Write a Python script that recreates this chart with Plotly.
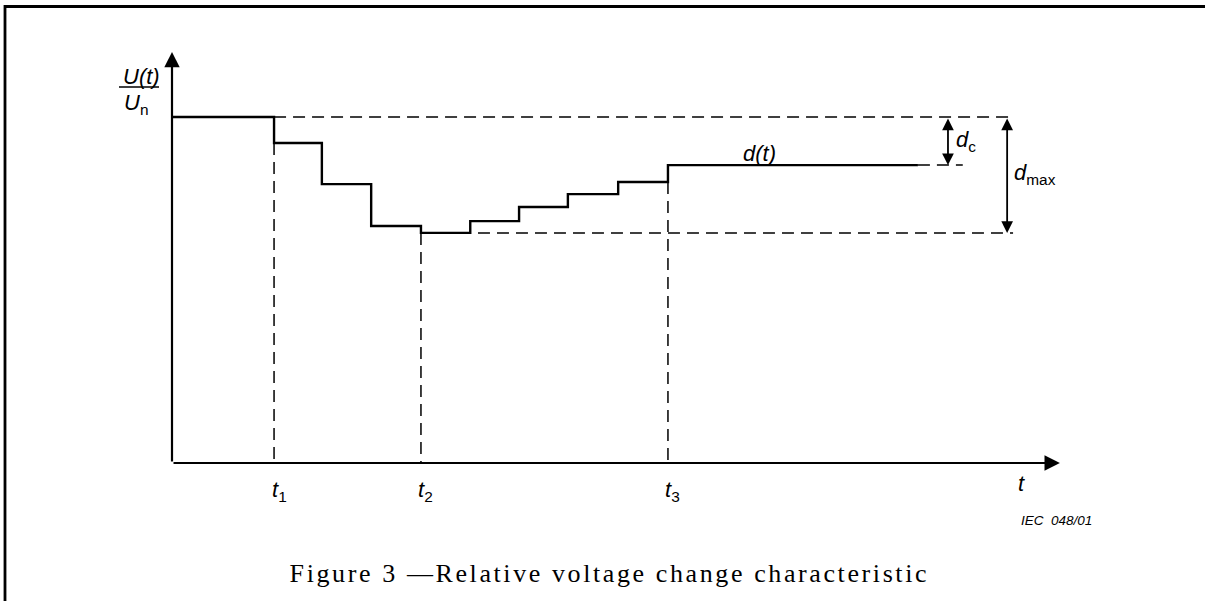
import plotly.graph_objects as go

# ---- data (diagram units: t in arbitrary time units, U/Un relative voltage) ----
step_times = [0, 2.07, 3.04, 4.04, 5.05, 6.05, 7.04, 8.03, 9.05, 10.06]
step_levels = [1.0, 0.925, 0.806, 0.685, 0.665, 0.699, 0.740, 0.777, 0.812, 0.861]
t_end = 15.13
marker_times = [2.07, 5.05, 10.06]          # t1, t2, t3
marker_subs = ["1", "2", "3"]
u_initial = 1.0
u_min = 0.665
u_final = 0.861
t_axis_end = 18.01
u_axis_end = 1.188
dash_right = 17.06
dc_dash_right = 16.04
dc_arrow_t = 15.74
dmax_arrow_t = 16.94

W, H = 1205, 601
X0_PX, Y0_PX = 172, 463      # origin position
KX, KY = 49.3, 346.0          # px per unit

def px(x):
    return x / W

def py(y):
    return 1 - y / H

fig = go.Figure()

BLACK = "#000000"
SANS = "Liberation Sans, Arial, sans-serif"

# staircase d(t)
fig.add_trace(go.Scatter(
    x=step_times + [t_end], y=step_levels + [u_final],
    mode="lines", line=dict(color=BLACK, width=2.4, shape="hv"),
    hoverinfo="skip", showlegend=False))

DASH = "12px,7px"
def dashed(x, y):
    fig.add_trace(go.Scatter(x=x, y=y, mode="lines",
                             line=dict(color=BLACK, width=1.5, dash=DASH),
                             hoverinfo="skip", showlegend=False))

# horizontal dashed references
dashed([marker_times[0], dash_right], [u_initial, u_initial])
dashed([marker_times[1], dash_right], [u_min, u_min])
dashed([t_end, dc_dash_right], [u_final, u_final])
# vertical dashed markers
dashed([marker_times[0], marker_times[0]], [step_levels[1], 0])
dashed([marker_times[1], marker_times[1]], [u_min, 0])
dashed([marker_times[2], marker_times[2]], [step_levels[8], 0])

anns = []
# axes with arrows
anns.append(dict(x=t_axis_end, y=0, ax=0, ay=0, xref="x", yref="y", axref="x", ayref="y",
                 text="", showarrow=True, arrowhead=2, arrowsize=1.4, arrowwidth=2.2,
                 arrowcolor=BLACK, standoff=0, startstandoff=0))
anns.append(dict(x=0, y=u_axis_end, ax=0, ay=0, xref="x", yref="y", axref="x", ayref="y",
                 text="", showarrow=True, arrowhead=2, arrowsize=1.4, arrowwidth=2.2,
                 arrowcolor=BLACK, standoff=0, startstandoff=0))
# double arrows d_c and d_max
for tt, lo in [(dc_arrow_t, u_final), (dmax_arrow_t, u_min)]:
    anns.append(dict(x=tt, y=lo, ax=tt, ay=u_initial, xref="x", yref="y", axref="x", ayref="y",
                     text="", showarrow=True, arrowhead=2, arrowsize=1.3, arrowwidth=1.8,
                     arrowside="end+start", arrowcolor=BLACK, standoff=0, startstandoff=0))

lab_font = dict(family=SANS, size=22, color=BLACK)
# tick labels t1,t2,t3
for tt, sub in zip(marker_times, marker_subs):
    anns.append(dict(x=tt, y=0, xref="x", yref="y", text="<i>t</i><sub>" + sub + "</sub>",
                     showarrow=False, font=lab_font, xanchor="center", yanchor="middle",
                     xshift=5, yshift=-28))
# t label on axis end
anns.append(dict(x=px(1021), y=py(484), xref="paper", yref="paper", text="<i>t</i>",
                 showarrow=False, font=lab_font, xanchor="center", yanchor="middle"))
# d(t)
anns.append(dict(x=px(759), y=py(153), xref="paper", yref="paper", text="<i>d(t)</i>",
                 showarrow=False, font=lab_font, xanchor="center", yanchor="middle"))
# d_c
anns.append(dict(x=px(954), y=py(141), xref="paper", yref="paper", text="<i>d</i><sub>c</sub>",
                 showarrow=False, font=lab_font, xanchor="left", yanchor="middle"))
# d_max
anns.append(dict(x=px(1012), y=py(174), xref="paper", yref="paper", text="<i>d</i><sub>max</sub>",
                 showarrow=False, font=lab_font, xanchor="left", yanchor="middle"))
# U(t)/Un
anns.append(dict(x=px(141), y=py(76), xref="paper", yref="paper", text="<i>U(t)</i>",
                 showarrow=False, font=lab_font, xanchor="center", yanchor="middle"))
anns.append(dict(x=px(122), y=py(104), xref="paper", yref="paper", text="<i>U</i><sub>n</sub>",
                 showarrow=False, font=lab_font, xanchor="left", yanchor="middle"))
# IEC reference
anns.append(dict(x=px(1019), y=py(520), xref="paper", yref="paper", text="<i>IEC  048/01</i>",
                 showarrow=False, font=dict(family=SANS, size=13.5, color=BLACK),
                 xanchor="left", yanchor="middle"))
# caption
anns.append(dict(x=px(609), y=py(573), xref="paper", yref="paper",
                 text="Figure 3 \u2014Relative voltage change characteristic",
                 showarrow=False, font=dict(family="Liberation Serif, Times New Roman, serif", size=26, color=BLACK),
                 xanchor="center", yanchor="middle"))

shapes = [
    # frame (right and bottom edges lie outside the page)
    dict(type="rect", xref="paper", yref="paper", x0=px(5), x1=px(1215), y0=py(6.5), y1=py(612),
         line=dict(color=BLACK, width=2.8), fillcolor="rgba(0,0,0,0)"),
    # fraction bar
    dict(type="line", xref="paper", yref="paper", x0=px(119), x1=px(159), y0=py(87), y1=py(87),
         line=dict(color=BLACK, width=1.5)),
]

fig.update_layout(
    width=W, height=H, margin=dict(l=0, r=0, t=0, b=0),
    paper_bgcolor="white", plot_bgcolor="white",
    xaxis=dict(range=[-X0_PX / KX, (W - X0_PX) / KX], visible=False, fixedrange=True),
    yaxis=dict(range=[(Y0_PX - H) / KY, Y0_PX / KY], visible=False, fixedrange=True),
    annotations=anns, shapes=shapes, showlegend=False,
)

post = """
document.documentElement.style.overflow='hidden';
document.body.style.margin='0';
document.body.style.overflow='hidden';
document.querySelectorAll('text.annotation-text').forEach(function(el){
  if (el.textContent.indexOf('Figure 3') === 0) { el.style.letterSpacing = '2.6px'; }
});
"""
fig.write_html("out.html", config={"displayModeBar": False, "staticPlot": True},
               post_script=post)
